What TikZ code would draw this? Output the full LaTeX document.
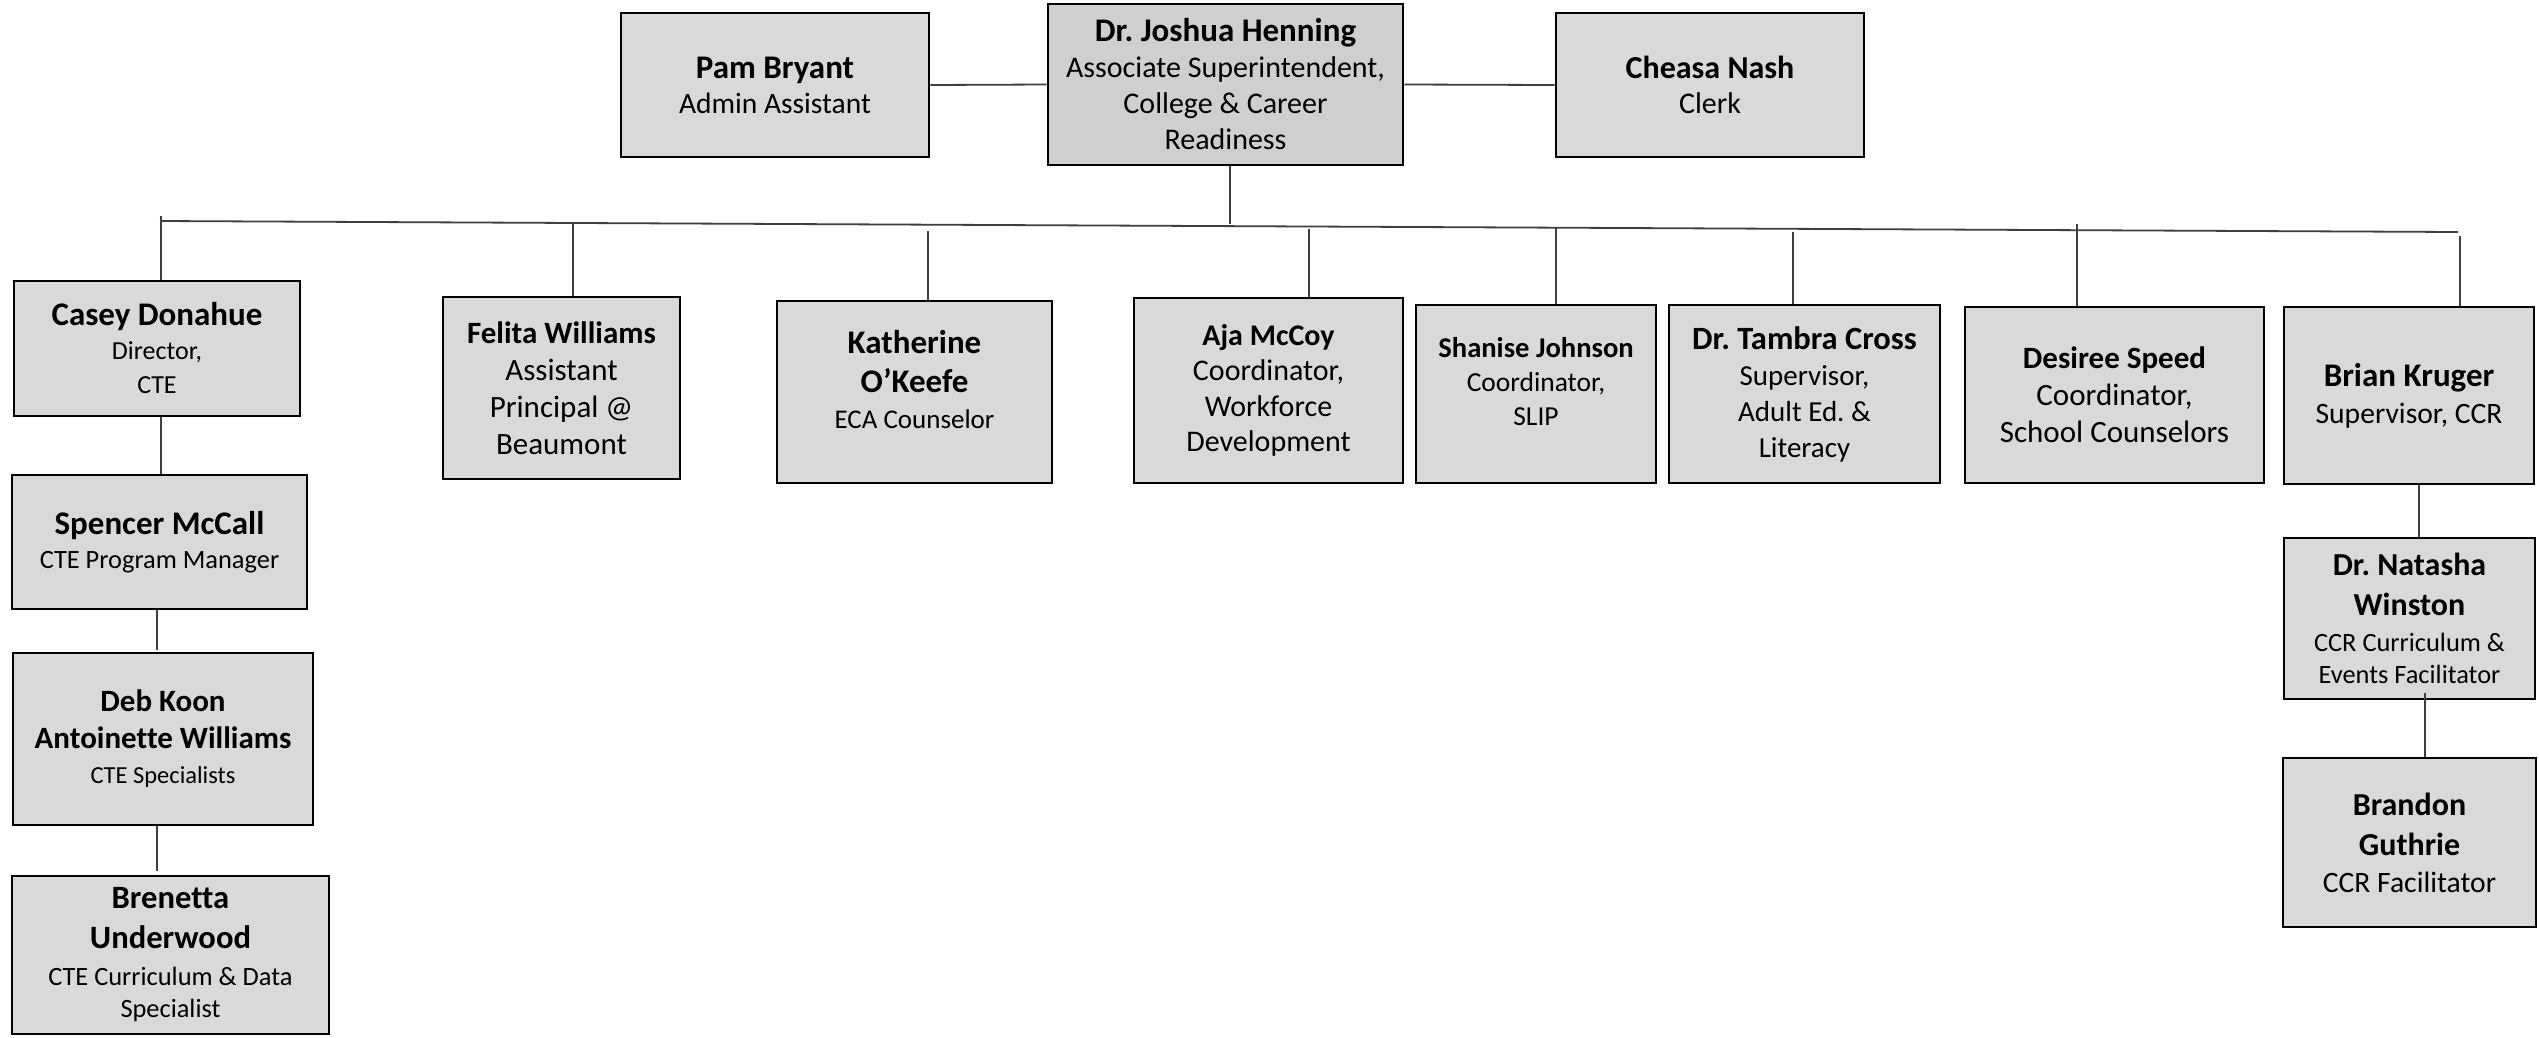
\documentclass[tikz,border=0pt]{standalone}
\usepackage{fontspec}
\setmainfont{Carlito}[Ligatures=NoCommon]
\frenchspacing
\definecolor{boxgray}{HTML}{D9D9D9}
\definecolor{topgray}{HTML}{D0CECE}
\definecolor{conngray}{HTML}{3F3F3F}
\newcommand\ob[7]{\node[box,#6,minimum width={#4-#2},minimum height={#5-#3}] (#1) at ({(#2+#4)/2},{(#3+#5)/2}) {#7};}
\newcommand\NM[2]{\fontsize{#1}{#2}\selectfont\bfseries}
\newcommand\SB[2]{\fontsize{#1}{#2}\selectfont}
\begin{document}
\begin{tikzpicture}[x=1pt,y=-1pt,
  box/.style={draw=black,line width=2.6,fill=boxgray,inner sep=2,align=center,text=black},
  conn/.style={draw=conngray,line width=1.8}]
\fill[white] (0,0) rectangle (2539,1037);
\useasboundingbox (0,0) rectangle (2539,1037);
% top row
\ob{pam}{621}{13}{929}{157}{font=\SB{29.5}{35}}{\NM{33}{37}Pam Bryant\\ Admin Assistant}
\ob{josh}{1048}{4}{1403}{165}{fill=topgray,font=\SB{30}{36}}{\NM{33}{38}Dr. Joshua Henning\\ Associate Superintendent,\\ College \& Career\\ Readiness}
\ob{cheasa}{1556}{13}{1864}{157}{font=\SB{30}{35}}{\NM{32}{37}Cheasa Nash\\ Clerk}
% second row
\ob{casey}{14}{281}{300}{416}{font=\SB{26}{34}}{\NM{33}{37}Casey Donahue\\ Director,\\ CTE}
\ob{felita}{443}{297}{680}{479}{font=\SB{31}{37}}{\NM{31}{37}Felita Williams\\ Assistant\\ Principal @\\ Beaumont}
\ob{kath}{777}{301}{1052}{483}{font=\SB{27}{36}}{\NM{33}{39}Katherine\\[3pt] \NM{33}{39}O’Keefe\\ ECA Counselor\\[-10pt]}
\ob{aja}{1134}{298}{1403}{483}{font=\SB{30}{35.5}}{\NM{30}{35}Aja McCoy\\ Coordinator,\\ Workforce\\ Development}
\ob{shanise}{1416}{305}{1656}{483}{font=\SB{27.5}{34}}{\NM{28.6}{34}Shanise Johnson\\ Coordinator,\\ SLIP\\[-8pt]}
\ob{tambra}{1669}{305}{1940}{483}{font=\SB{29}{36}}{\NM{32.5}{36}Dr. Tambra Cross\\ Supervisor,\\ Adult Ed. \&\\ Literacy}
\ob{desiree}{1965}{307}{2264}{483}{font=\SB{31}{37}}{\NM{31}{37}Desiree Speed\\ Coordinator,\\ School Counselors}
\ob{brian}{2284}{307}{2534}{484}{font=\SB{29.6}{37}}{\NM{33}{37}Brian Kruger\\ Supervisor, CCR}
% left column
\ob{spencer}{12}{475}{307}{609}{font=\SB{26.4}{34}}{\NM{33}{35}Spencer McCall\\ CTE Program Manager}
\ob{deb}{13}{653}{313}{825}{font=\SB{24.5}{35}}{\NM{31}{37}Deb Koon\\[2pt] \NM{31}{37}Antoinette Williams\\ CTE Specialists}
\ob{brenetta}{12}{876}{329}{1034}{font=\SB{26.4}{37}}{\NM{32.6}{39}Brenetta\\[3pt] \NM{32.6}{39}Underwood\\ CTE Curriculum \& Data\\[-5pt] Specialist}
% right column
\ob{natasha}{2284}{538}{2535}{699}{font=\SB{26.4}{36}}{\NM{32}{40}Dr. Natasha\\[4pt] \NM{32}{40}Winston\\ CCR Curriculum \&\\[-4pt] Events Facilitator}
\ob{brandon}{2283}{758}{2536}{927}{font=\SB{29.6}{37}}{\NM{32}{40}Brandon\\[3pt] \NM{32}{40}Guthrie\\ CCR Facilitator}
% connectors
\draw[conn] (pam.east) -- (josh.west);
\draw[conn] (josh.east) -- (cheasa.west);
\coordinate (bL) at (160,221);
\coordinate (bR) at (2458,232);
\coordinate (jd) at (1230,224);
\draw[conn] (jd |- josh.south) -- (jd);
\draw[conn] (bL) -- (bR);
\coordinate (cCasey) at (161,216);
\coordinate (cFel) at (573,222);
\coordinate (cKat) at (928,231);
\coordinate (cAja) at (1309,229);
\coordinate (cSha) at (1556,227);
\coordinate (cTam) at (1793,232);
\coordinate (cDes) at (2077,224);
\coordinate (cBri) at (2460,236);
\draw[conn] (cCasey) -- (cCasey |- casey.north);
\draw[conn] (cFel) -- (cFel |- felita.north);
\draw[conn] (cKat) -- (cKat |- kath.north);
\draw[conn] (cAja) -- (cAja |- aja.north);
\draw[conn] (cSha) -- (cSha |- shanise.north);
\draw[conn] (cTam) -- (cTam |- tambra.north);
\draw[conn] (cDes) -- (cDes |- desiree.north);
\draw[conn] (cBri) -- (cBri |- brian.north);
% left column connectors
\coordinate (cs) at (161,0);
\draw[conn] (cs |- casey.south) -- (cs |- spencer.north);
\coordinate (sd) at (157,650);
\draw[conn] (sd |- spencer.south) -- (sd);
\coordinate (db) at (157,871);
\draw[conn] (db |- deb.south) -- (db);
% right column connectors
\coordinate (bn) at (2419,0);
\draw[conn] (bn |- brian.south) -- (bn |- natasha.north);
\coordinate (nb) at (2425,693);
\draw[conn] (nb) -- (nb |- brandon.north);
\end{tikzpicture}
\end{document}
